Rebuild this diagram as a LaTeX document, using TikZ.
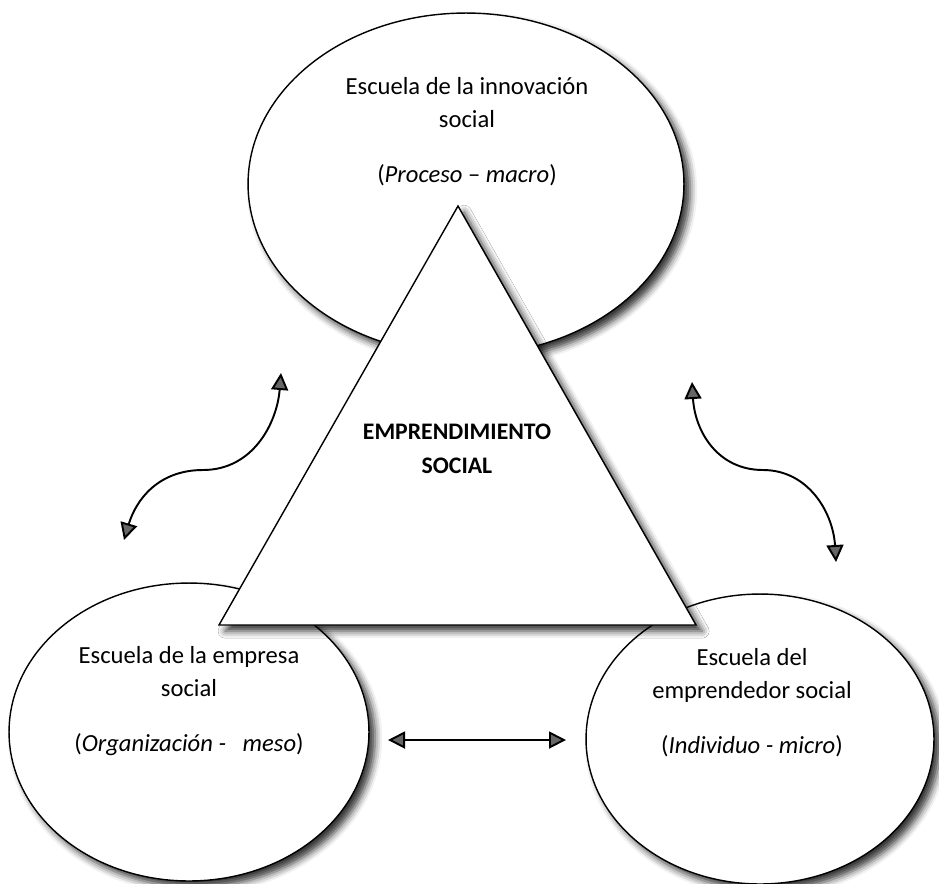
\documentclass[tikz,border=0pt]{standalone}
\usepackage{fontspec}
\setmainfont{Carlito}
\usetikzlibrary{shapes.geometric,shadows.blur,arrows.meta}

\begin{document}
\begin{tikzpicture}[x=0.02cm,y=-0.02cm,
    sombra/.style={blur shadow={shadow xshift=3.5pt,shadow yshift=-3.5pt,shadow blur radius=4pt,shadow opacity=80}},
    escuela/.style={ellipse,draw,line width=0.8pt,fill=white,inner sep=0pt,sombra},
    piramide/.style={draw,line width=0.8pt,fill=white,line join=miter,sombra},
    rotulo/.style={align=center,anchor=base,font=\fontsize{14}{19}\selectfont},
    flecha/.style={line width=1.1pt,{Triangle[length=3.4mm,width=3.4mm]}-{Triangle[length=3.4mm,width=3.4mm]}}]
    \useasboundingbox (0,0) rectangle (939,883);

    % las tres escuelas
    \node[escuela,minimum width=8.72cm,minimum height=6.84cm] (innovacion) at (466,184) {};
    \node[escuela,minimum width=7.2cm,minimum height=5.96cm] (empresa) at (189,732) {};
    \node[escuela,minimum width=6.96cm,minimum height=5.8cm] (emprendedor) at (760,739) {};

    % triangulo central
    \coordinate (cima) at (458,206);
    \coordinate (baseizq) at (219,625);
    \coordinate (baseder) at (696,625);
    \path[piramide] (cima) -- (baseizq) -- (baseder) -- cycle;

    % textos (anclados en la linea base de la ultima linea)
    \node[rotulo] (innovaciontxt) at (467,182) {Escuela de la innovación\\ social\\[12pt] (\textit{Proceso} – \textit{macro})};
    \node[rotulo] (empresatxt) at (189,751) {Escuela de la empresa\\ social\\[12pt] (\textit{Organización -}\ \ \ \textit{meso})};
    \node[rotulo] (emprendedortxt) at (752,753) {Escuela del\\ emprendedor social\\[12pt] (\textit{Individuo - micro})};
    \node[rotulo,font=\fontsize{13.5}{18.8}\selectfont\bfseries] (centrotxt) at (457,473) {EMPRENDIMIENTO\\ SOCIAL};

    % flechas
    \coordinate (izqA) at (281,373);
    \coordinate (izqM) at (203,470);
    \coordinate (izqB) at (124,540);
    \coordinate (derA) at (692,382);
    \coordinate (derM) at (763,470);
    \coordinate (derB) at (836,562);
    \coordinate (hizq) at (388,740);
    \coordinate (hder) at (566,740);

    \draw[flecha] (izqB) .. controls +(12,-40) and +(-45,0) .. (izqM) .. controls +(50,0) and +(-4,50) .. (izqA);
    \draw[flecha] (derA) .. controls +(3,50) and +(-45,0) .. (derM) .. controls +(45,0) and +(-3,-50) .. (derB);
    \draw[flecha] (hizq) -- (hder);
\end{tikzpicture}
\end{document}
